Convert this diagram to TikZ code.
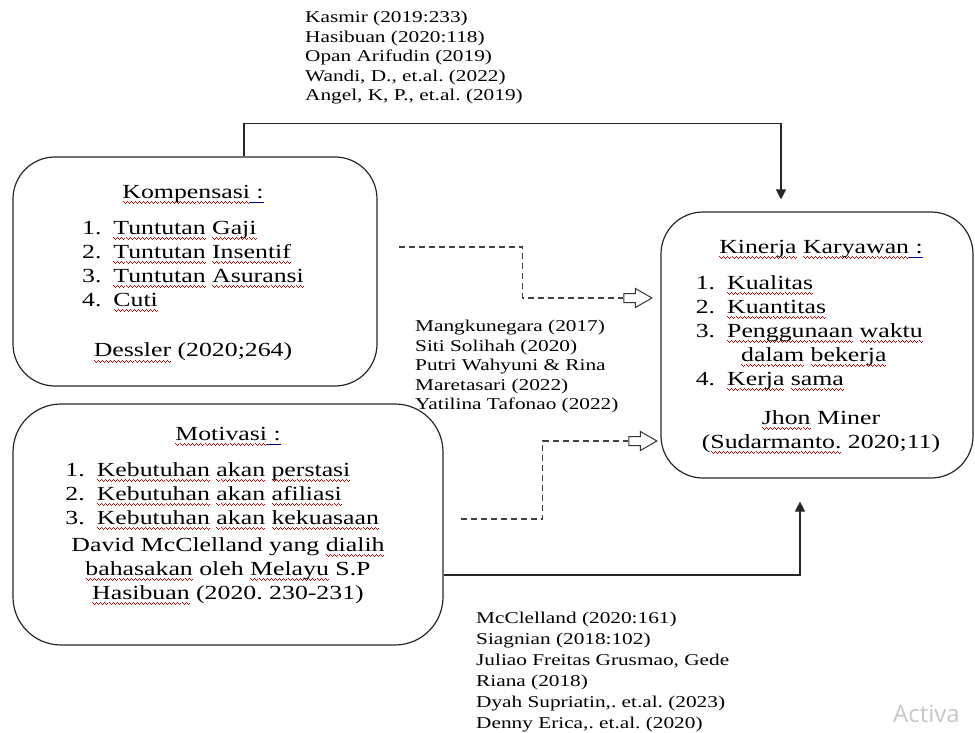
\documentclass[tikz,border=0pt]{standalone}
\usepackage{fontspec}
\setmainfont{Liberation Serif}[FakeStretch=1.29]
\newfontfamily\wmfont{Open Sans}
\usetikzlibrary{arrows.meta,shapes.arrows}
\newsavebox\sqbox
\newcommand\sq[1]{\sbox\sqbox{#1}\rlap{\color{red!80!black}\hbox to \wd\sqbox{\xleaders\hbox{%
\vrule height -3pt depth 4pt width 1pt\vrule height -4pt depth 5pt width 1pt%
\vrule height -5pt depth 6pt width 1pt\vrule height -4pt depth 5pt width 1pt}\hfill}}\usebox\sqbox}
\newcommand\bq[1]{\sbox\sqbox{#1}\rlap{\color{blue!60!black}\vrule height -3.5pt depth 4.5pt width \wd\sqbox}\usebox\sqbox}
\frenchspacing
\begin{document}
\begin{tikzpicture}[x=1pt,y=-1pt,
  box/.style={draw=black!85, line width=1.2pt, rounded corners=42pt, inner sep=0pt},
  boxtext/.style={font=\fontsize{20}{24}\selectfont, inner sep=0pt, anchor=north},
  cite/.style={font=\fontsize{16.5}{19.5}\selectfont, align=left, inner sep=0pt, anchor=north west},
  conn/.style={draw=black!85, line width=1.2pt, -{Triangle[length=10pt,width=10pt]}},
  dashconn/.style={draw=black!75, line width=1.2pt, dash pattern=on 6pt off 4pt},
  hollow/.style={single arrow, draw=black!80, fill=white, line width=1pt, minimum height=28pt,
    inner xsep=0pt, inner ysep=4pt, single arrow head extend=5pt, single arrow tip angle=60}]
\useasboundingbox (0,0) rectangle (975,733);

% boxes
\node[box, minimum width=364pt, minimum height=229pt] (komp) at (195,271.5) {};
\node[box, rounded corners=48pt, minimum width=430pt, minimum height=241pt] (motiv) at (228,524.5) {};
\node[box, minimum width=312pt, minimum height=266pt] (kin) at (817,345) {};

% box texts
\node[boxtext] (kompt) at (193,181) {%
\begin{tabular}{@{}l@{\hspace{12pt}}l@{}}
\multicolumn{2}{c}{\sq{Kompensasi}\bq{\ :}}\\[12pt]
1.&\sq{Tuntutan} \sq{Gaji}\\
2.&\sq{Tuntutan} \sq{Insentif}\\
3.&\sq{Tuntutan} \sq{Asuransi}\\
4.&\sq{Cuti}\\[27pt]
\multicolumn{2}{c}{\sq{Dessler} (2020;264)}
\end{tabular}};

\node[boxtext] (motivt) at (228,423) {%
\begin{tabular}{@{}l@{\hspace{12pt}}l@{}}
\multicolumn{2}{c}{\sq{Motivasi}\bq{\ :}}\\[12pt]
1.&\sq{Kebutuhan} \sq{akan} \sq{perstasi}\\
2.&\sq{Kebutuhan} \sq{akan} \sq{afiliasi}\\
3.&\sq{Kebutuhan} \sq{akan} \sq{kekuasaan}\\[3pt]
\multicolumn{2}{c}{David McClelland yang \sq{dialih}}\\
\multicolumn{2}{c}{\sq{bahasakan} oleh \sq{Melayu} S.P}\\
\multicolumn{2}{c}{\sq{Hasibuan} (2020. 230-231)}
\end{tabular}};

\node[boxtext] (kint) at (821,236) {%
\begin{tabular}{@{}l@{\hspace{12pt}}l@{}}
\multicolumn{2}{c}{\sq{Kinerja} \sq{Karyawan}\bq{\ :}}\\[12pt]
1.&\sq{Kualitas}\\
2.&\sq{Kuantitas}\\
3.&\sq{Penggunaan} \sq{waktu}\\
&\hspace*{14pt}\sq{dalam} \sq{bekerja}\\
4.&\sq{Kerja} \sq{sama}\\[15pt]
\multicolumn{2}{c}{\sq{Jhon} Miner}\\
\multicolumn{2}{c}{(\sq{Sudarmanto.} 2020;11)}
\end{tabular}};

% citations
\node[cite] (cit1) at (305,11.3) {Kasmir (2019:233)\\Hasibuan (2020:118)\\Opan Arifudin (2019)\\Wandi, D., et.al. (2022)\\Angel, K, P., et.al. (2019)};
\node[cite] (cit2) at (415,320.3) {Mangkunegara (2017)\\Siti Solihah (2020)\\Putri Wahyuni \& Rina\\Maretasari (2022)\\Yatilina Tafonao (2022)};
\node[cite, font=\fontsize{16.5}{21}\selectfont] (cit3) at (476,611.6) {McClelland (2020:161)\\Siagnian (2018:102)\\Juliao Freitas Grusmao, Gede\\Riana (2018)\\Dyah Supriatin,. et.al. (2023)\\Denny Erica,. et.al. (2020)};

% hollow arrows
\node[hollow] (ha1) at (634,298) {};
\node[hollow] (ha2) at (639,441) {};

% connectors
\draw[conn] ([xshift=49pt]komp.north) -- ++(0,-33) -| ([xshift=-36pt,yshift=12pt]kin.north);
\draw[conn] ([yshift=-50.5pt]motiv.east) -| ([xshift=-17pt,yshift=-23pt]kin.south);
\draw[dashconn] ([xshift=21pt,yshift=24.5pt]komp.east) -- ++(124,0) |- (ha1.tail);
\draw[dashconn] ([xshift=17pt,yshift=5.5pt]motiv.east) -- ++(82,0) |- (ha2.tail);

% watermark
\node[anchor=base west, inner sep=0pt, font=\wmfont\fontsize{24}{28}\selectfont, text=black!22] (wm) at (893,722) {Activa};
\end{tikzpicture}
\end{document}
